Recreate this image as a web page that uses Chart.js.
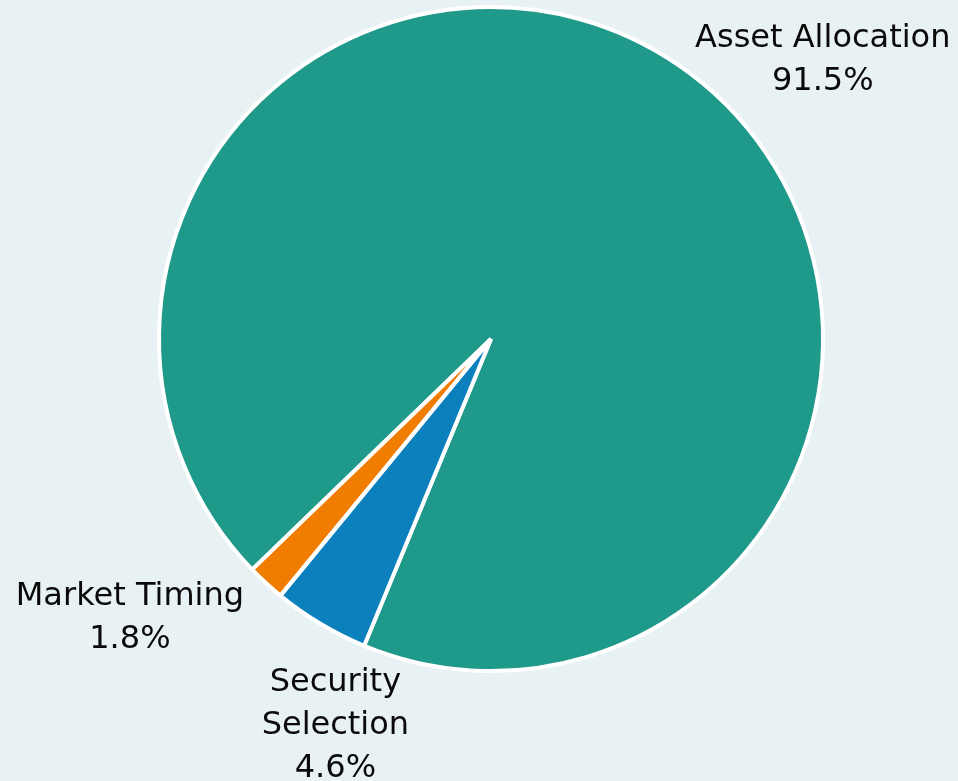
<!DOCTYPE html>
<html lang="en">
<head>
<meta charset="UTF-8">
<title>Return variation</title>
<script src="https://cdn.jsdelivr.net/npm/chart.js@4.4.1/dist/chart.umd.min.js"></script>
<style>
  html, body { margin: 0; padding: 0; background: #e8f1f4; }
  #wrap { width: 958px; height: 781px; }
</style>
</head>
<body>
<div id="wrap"><canvas id="pie"></canvas></div>
<script>
// slices, clockwise from the top of the first one
var sliceNames = [['Asset', 'Allocation'], ['Security', 'Selection'], ['Market', 'Timing']];
var sliceValues = [91.5, 4.6, 1.8];
var sliceColors = ['#1f998a', '#0b80bd', '#f07c00'];

// label lines: name lines then the value
var labelLines = [
    ['Asset Allocation', '91.5%'],
    ['Security', 'Selection', '4.6%'],
    ['Market Timing', '1.8%']
];
// where each label sits, relative to the outer middle of its slice
var labelShift = [[145, -26], [15, 59], [-136, 14]];

var labelPlugin = {
    id: 'sliceLabels',
    afterDatasetsDraw: function (chart) {
        var ctx = chart.ctx;
        var arcs = chart.getDatasetMeta(0).data;
        ctx.save();
        ctx.font = '32px "DejaVu Sans"';
        ctx.fillStyle = '#0a0a0a';
        ctx.textAlign = 'center';
        ctx.textBaseline = 'middle';
        arcs.forEach(function (arc, i) {
            var p = arc.getProps(['x', 'y', 'startAngle', 'endAngle', 'outerRadius'], true);
            var mid = (p.startAngle + p.endAngle) / 2;
            var x = p.x + Math.cos(mid) * p.outerRadius + labelShift[i][0];
            var y = p.y + Math.sin(mid) * p.outerRadius + labelShift[i][1];
            labelLines[i].forEach(function (line, k) {
                ctx.fillText(line, x, y + k * 43);
            });
        });
        ctx.restore();
    }
};

new Chart(document.getElementById('pie'), {
    type: 'pie',
    data: {
        labels: sliceNames,
        datasets: [{
            data: sliceValues,
            backgroundColor: sliceColors,
            borderColor: '#ffffff',
            borderWidth: 4
        }]
    },
    options: {
        responsive: true,
        maintainAspectRatio: false,
        animation: false,
        rotation: 226,
        layout: { padding: { left: 157, right: 133, top: 5, bottom: 108 } },
        plugins: {
            legend: { display: false },
            tooltip: { enabled: false }
        }
    },
    plugins: [labelPlugin]
});
</script>
</body>
</html>
